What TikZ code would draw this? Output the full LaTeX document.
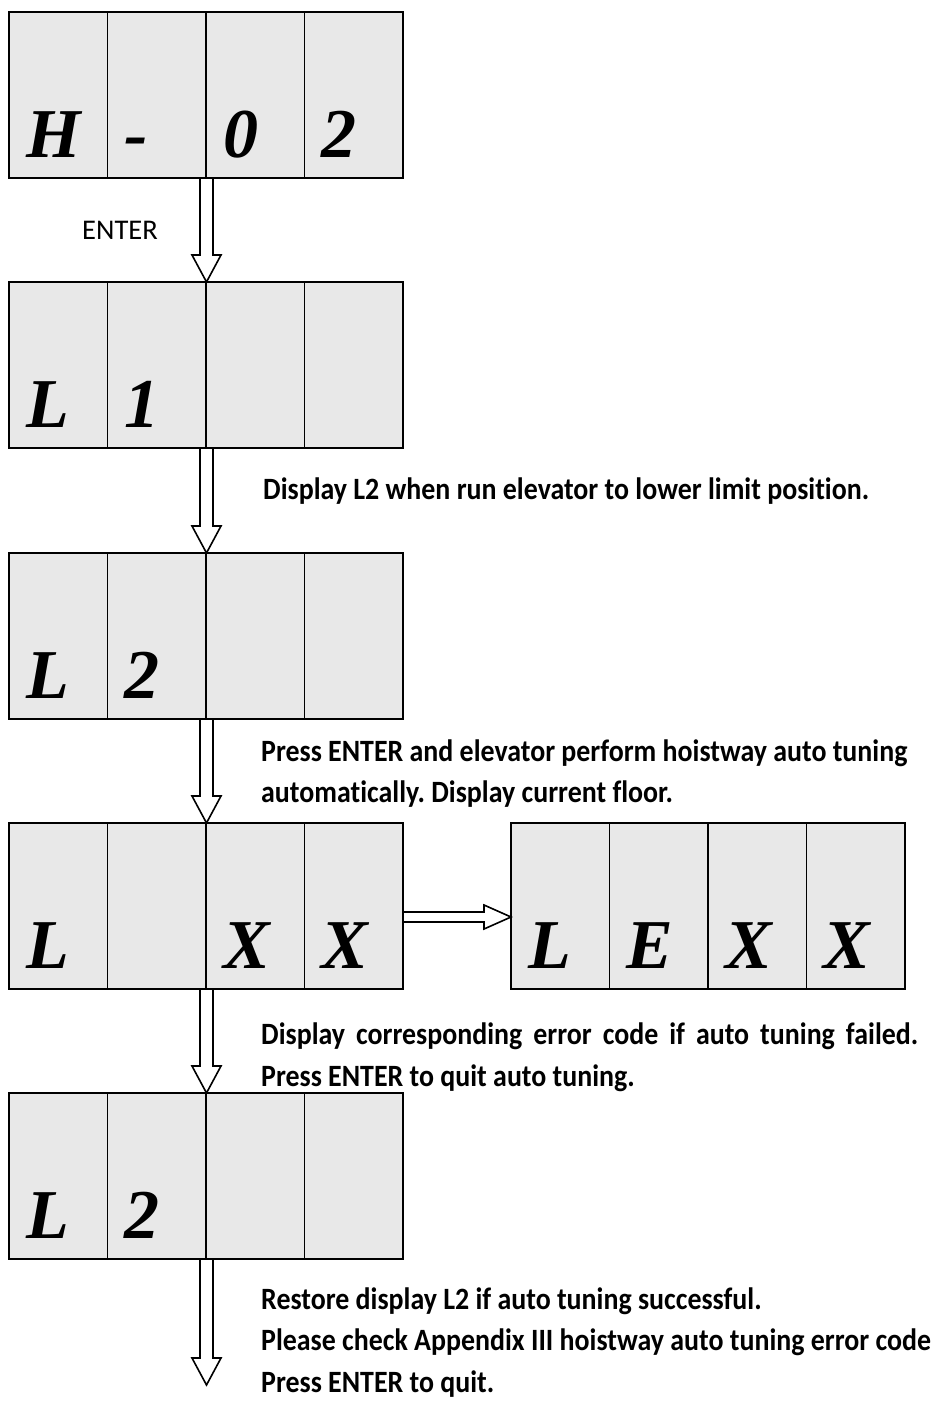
\documentclass[tikz,border=0pt]{standalone}
\usepackage{fontspec}
\setmainfont{Liberation Serif}
\newfontfamily\descfont[FakeStretch=0.9,Ligatures={NoCommon}]{Carlito}
\newfontfamily\keyfont{Carlito}
\usetikzlibrary{calc}
\definecolor{boxgray}{RGB}{232,232,232}
\tikzset{
  dispframe/.style={rectangle, draw=black, line width=1.8pt, fill=boxgray,
    minimum width=394pt, minimum height=166pt, inner sep=0pt, outer sep=0pt},
  divider/.style={draw=black, line width=1.8pt},
  digit/.style={font=\fontsize{70}{70}\selectfont\bfseries\itshape, inner sep=0pt, anchor=base west},
  flowarrow/.style={draw=black, line width=1.6pt, line join=miter},
  desc/.style={font=\descfont\bfseries\fontsize{31}{41}\selectfont\frenchspacing, anchor=base west, inner sep=0pt},
  keylabel/.style={font=\keyfont\fontsize{28.5}{30}\selectfont, anchor=base west, inner sep=0pt},
}
\newcommand\dispbox[7]{%
  \node[dispframe, anchor=north west] (#1) at (#2,#3) {};
  \foreach \k in {1,2,3}
    \draw[divider] ($(#1.north west)+(\k*98.5,0)$) -- ($(#1.south west)+(\k*98.5,0)$);
  \node[digit] (#1-c1) at ($(#1.south west)+(17,-21)$) {#4};
  \node[digit] (#1-c2) at ($(#1.south west)+(115.5,-21)$) {#5};
  \node[digit] (#1-c3) at ($(#1.south west)+(214,-21)$) {#6};
  \node[digit] (#1-c4) at ($(#1.south west)+(312.5,-21)$) {#7};
}
\newcommand\flowdown[2]{%
  \draw[flowarrow] let \p1=($(#1)+(0.5,0)$), \p2=(#2) in
    (\x1-6.5pt,\y1) -- (\x1-6.5pt,\y2+27pt) -- (\x1-14.5pt,\y2+27pt) -- (\x1,\y2)
    -- (\x1+14.5pt,\y2+27pt) -- (\x1+6.5pt,\y2+27pt) -- (\x1+6.5pt,\y1);}
\newcommand\flowright[2]{%
  \draw[flowarrow] let \p1=($(#1)+(0,11)$), \p2=(#2) in
    (\x1,\y1+5pt) -- (\x2-27pt,\y1+5pt) -- (\x2-27pt,\y1+12pt) -- (\x2,\y1)
    -- (\x2-27pt,\y1-12pt) -- (\x2-27pt,\y1-5pt) -- (\x1,\y1-5pt);}
\begin{document}
\begin{tikzpicture}[x=1pt,y=-1pt]
\useasboundingbox (0,0) rectangle (935,1416);
\dispbox{b1}{9}{12}{H}{-}{0}{2}
\dispbox{b2}{9}{282}{L}{1}{}{}
\dispbox{b3}{9}{553}{L}{2}{}{}
\dispbox{b4}{9}{823}{L}{}{X}{X}
\dispbox{b4e}{511}{823}{L}{E}{X}{X}
\dispbox{b5}{9}{1093}{L}{2}{}{}
\coordinate (endtip) at (206,1385);

\flowdown{b1.south}{b2.north}
\flowdown{b2.south}{b3.north}
\flowdown{b3.south}{b4.north}
\flowdown{b4.south}{b5.north}
\flowdown{b5.south}{endtip}
\flowright{b4.east}{b4e.west}

\node[keylabel] (tEnter) at (82,239) {ENTER};
\node[desc] (t1) at (263,499) {Display L2 when run elevator to lower limit position.};
\node[desc] (t2a) at (261,761) {Press ENTER and elevator perform hoistway auto tuning};
\node[desc] (t2b) at (261,802) {automatically. Display current floor.};
\node[desc] (t3a) at (261,1044) {\makebox[657pt][s]{Display corresponding error code if auto tuning failed.}};
\node[desc] (t3b) at (261,1086) {Press ENTER to quit auto tuning.};
\node[desc] (t4a) at (261,1309) {Restore display L2 if auto tuning successful.};
\node[desc] (t4b) at (261,1350) {Please check Appendix III hoistway auto tuning error code};
\node[desc] (t4c) at (261,1392) {Press ENTER to quit.};
\end{tikzpicture}
\end{document}
